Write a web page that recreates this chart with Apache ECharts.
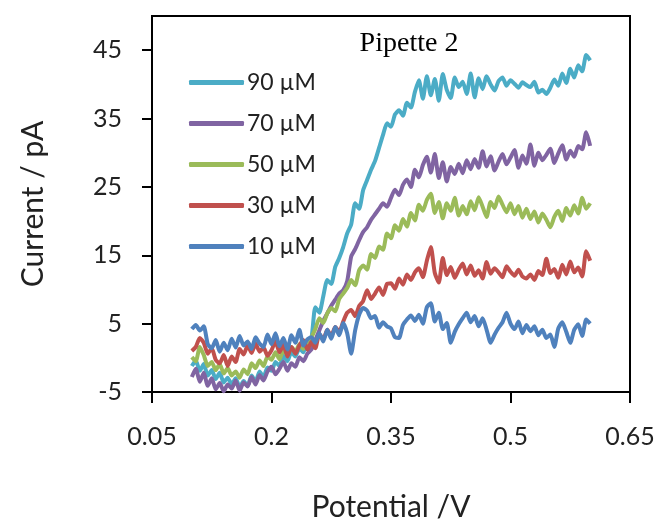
<!DOCTYPE html>
<html>
<head>
<meta charset="utf-8">
<script src="https://cdn.jsdelivr.net/npm/echarts@6/dist/echarts.min.js"></script>
<style>html,body{margin:0;padding:0;background:#fff}#c{width:662px;height:528px}</style>
</head>
<body>
<div id="c"></div>
<script>
const potential = [0.100,0.105,0.110,0.115,0.120,0.125,0.130,0.135,0.140,0.145,
0.150,0.155,0.160,0.165,0.170,0.175,0.180,0.185,0.190,0.195,
0.200,0.205,0.210,0.215,0.220,0.225,0.230,0.235,0.240,0.245,
0.250,0.255,0.260,0.265,0.270,0.275,0.280,0.285,0.290,0.295,
0.300,0.305,0.310,0.315,0.320,0.325,0.330,0.335,0.340,0.345,
0.350,0.355,0.360,0.365,0.370,0.375,0.380,0.385,0.390,0.395,
0.400,0.405,0.410,0.415,0.420,0.425,0.430,0.435,0.440,0.445,
0.450,0.455,0.460,0.465,0.470,0.475,0.480,0.485,0.490,0.495,
0.500,0.505,0.510,0.515,0.520,0.525,0.530,0.535,0.540,0.545,
0.550,0.555,0.560,0.565,0.570,0.575,0.580,0.585,0.590,0.595,0.600];

const c90 = [-1.2,-0.4,-1.9,-0.9,-2.6,-1.8,-3.1,-2.2,-3.6,-2.9,
-3.9,-3.0,-4.3,-3.4,-4.1,-2.6,-3.5,-2.0,-2.8,-1.4,
-1.9,-0.6,-1.2,0.3,-0.5,0.9,0.2,1.4,0.8,2.6,
2.8,7.4,6.6,9.0,11.4,10.8,13.3,14.6,16.2,18.2,
19.5,22.6,21.8,24.5,26.0,27.5,28.8,30.7,32.6,34.3,
33.8,35.6,36.2,35.4,37.3,36.6,38.9,40.6,37.9,41.2,
38.4,40.8,37.6,41.5,39.2,38.0,41.0,39.6,40.4,38.6,
41.6,38.1,40.9,39.3,41.2,40.0,39.1,40.5,41.0,39.8,
40.6,40.1,39.5,40.3,39.9,39.6,40.4,38.8,39.2,38.6,
39.5,40.7,39.8,41.6,40.2,42.3,41.0,42.8,41.9,44.3,43.5];

const c70 = [-2.8,-1.6,-3.5,-2.2,-4.1,-3.0,-4.6,-3.7,-4.9,-3.9,
-4.5,-3.3,-4.8,-3.6,-4.2,-2.8,-3.9,-2.5,-3.3,-2.0,
-1.3,-2.4,-1.6,-0.6,-1.9,-0.8,-1.3,0.1,-0.5,0.6,
1.2,2.6,4.0,5.4,6.5,7.6,8.5,9.4,9.9,11.2,
14.8,15.9,17.2,18.4,19.1,20.2,21.0,21.8,22.6,22.1,
23.4,24.6,23.8,25.3,26.1,25.0,27.5,26.4,28.2,29.4,
27.1,29.8,26.3,28.6,25.8,27.9,26.9,28.4,27.0,28.9,
27.6,29.1,27.8,30.2,28.0,29.5,27.4,28.7,29.8,28.3,
29.3,30.4,27.8,29.6,28.4,31.2,28.1,30.0,28.9,29.7,
30.6,28.5,29.9,31.1,29.0,30.3,29.4,31.0,30.5,33.0,31.0];

const c50 = [0.1,-0.5,1.6,0.4,-1.2,-0.6,-1.8,-0.9,-2.3,-1.5,
-2.6,-2.0,-2.9,-1.7,-2.4,-0.8,-1.5,-0.4,-1.2,0.2,
-0.3,0.8,-0.2,1.1,0.4,1.6,0.9,2.0,1.3,2.4,
3.0,4.2,5.8,5.1,6.5,7.3,6.8,8.6,9.4,10.2,
11.4,10.6,12.8,13.5,12.9,15.2,14.6,16.3,15.8,18.2,
17.5,19.4,18.6,20.3,19.2,21.2,20.1,22.4,21.5,23.1,
24.0,21.2,22.8,20.4,22.6,21.5,23.4,20.8,22.2,21.0,
22.9,21.6,23.5,22.1,20.6,22.8,21.9,23.6,22.4,21.3,
22.6,21.0,22.2,20.5,21.8,20.3,21.4,19.8,21.1,20.2,
19.1,20.6,21.5,20.0,21.9,20.8,22.3,21.1,23.4,21.8,22.6];

const c30 = [1.0,1.6,2.9,2.2,0.6,1.4,-0.3,-0.8,0.4,-1.2,
0.2,-0.6,1.3,0.5,1.8,0.7,2.1,0.9,1.5,0.3,
1.1,2.4,0.8,1.9,0.2,1.6,0.6,1.8,2.6,1.2,
2.3,1.4,3.5,2.7,4.1,3.2,4.5,3.8,5.3,6.6,
7.0,6.1,7.6,8.3,9.9,8.6,9.4,10.3,9.2,10.8,
10.9,10.1,11.6,10.7,12.2,11.4,12.5,13.1,11.8,14.2,
16.2,12.4,11.0,14.6,12.1,13.3,11.7,12.9,13.8,12.2,
13.5,12.0,12.8,11.6,14.0,12.3,13.1,12.5,11.8,13.4,
12.6,12.0,12.9,11.9,11.6,12.2,11.4,12.7,12.1,14.5,
12.4,13.0,11.7,13.6,12.2,14.1,12.5,13.2,11.9,15.6,14.2];

const c10 = [4.2,4.8,4.0,4.6,2.0,1.4,2.6,0.9,2.2,1.1,
2.8,1.5,3.2,1.8,2.4,1.3,3.0,2.1,1.6,3.4,
2.0,3.6,1.7,2.9,1.2,3.3,2.2,4.1,1.8,2.7,
3.0,2.2,3.6,2.4,4.1,2.8,4.5,3.3,5.1,3.6,
0.6,4.0,6.3,7.3,6.9,5.8,6.1,4.4,5.2,4.6,
4.3,3.0,2.9,4.8,5.6,6.2,5.4,6.3,5.0,7.4,
8.0,5.3,6.6,4.2,5.1,2.2,3.8,4.9,5.8,6.6,
5.2,6.1,4.6,5.8,4.1,2.2,3.4,4.4,5.2,6.6,
5.0,4.2,5.3,3.6,4.8,3.9,4.6,3.3,4.1,2.9,
3.4,1.6,4.3,5.2,3.8,2.2,4.1,4.9,3.2,5.6,5.0];

const seriesNames = ['90 µM','70 µM','50 µM','30 µM','10 µM'];
const seriesData = [c90, c70, c50, c30, c10];
const seriesColors = ['#4BACC6','#8064A2','#9BBB59','#C0504D','#4F81BD'];
const xTicks = [0.05, 0.2, 0.35, 0.5, 0.65];
const yTicks = [-5, 5, 15, 25, 35, 45];

const chart = echarts.init(document.getElementById('c'), null, {renderer:'canvas'});
const font = 'Lato, "Open Sans", sans-serif';
chart.setOption({
  animation: false,
  backgroundColor: '#fff',
  title: {
    text: 'Pipette 2', left: 404, top: 25, textAlign: 'center',
    textStyle: {fontFamily: '"Liberation Serif", "Times New Roman", serif', fontSize: 28, fontWeight: 'normal', color: '#000'}
  },
  legend: {
    orient: 'vertical', left: 184, top: 66, itemWidth: 55, itemHeight: 5, itemGap: 18,
    icon: 'roundRect',
    textStyle: {fontFamily: font, fontSize: 23, color: '#222', padding: [0,0,0,-2]},
    data: seriesNames
  },
  grid: {left: 152, right: 32, top: 16, bottom: 136, show: true, borderColor: '#000', borderWidth: 2, backgroundColor: 'transparent'},
  xAxis: {
    type: 'value', min: 0.05, max: 0.65,
    name: 'Potential /V', nameLocation: 'middle', nameGap: 100,
    nameTextStyle: {fontFamily: font, fontSize: 30, color: '#222'},
    axisLine: {onZero: false, lineStyle: {color: '#000', width: 2}},
    axisTick: {show: true, length: 11, lineStyle: {color: '#000', width: 2}, customValues: xTicks},
    axisLabel: {customValues: xTicks, fontFamily: font, fontSize: 25, color: '#222', margin: 32, formatter: v => String(v)},
    splitLine: {show: false}
  },
  yAxis: {
    type: 'value', min: -5, max: 50,
    name: 'Current / pA', nameLocation: 'middle', nameGap: 104, nameRotate: 90,
    nameTextStyle: {fontFamily: font, fontSize: 30, color: '#222'},
    axisLine: {show: true, onZero: false, lineStyle: {color: '#000', width: 2}},
    axisTick: {show: true, length: 10, lineStyle: {color: '#000', width: 2}, customValues: yTicks},
    axisLabel: {customValues: yTicks, fontFamily: font, fontSize: 25, color: '#222', margin: 30},
    splitLine: {show: false}
  },
  series: seriesNames.map((n, k) => ({
    name: n, type: 'line', showSymbol: false, symbol: 'none', smooth: 0.2,
    lineStyle: {color: seriesColors[k], width: 4},
    itemStyle: {color: seriesColors[k]},
    data: potential.map((x, i) => [x, seriesData[k][i]])
  }))
});
</script>
</body>
</html>
